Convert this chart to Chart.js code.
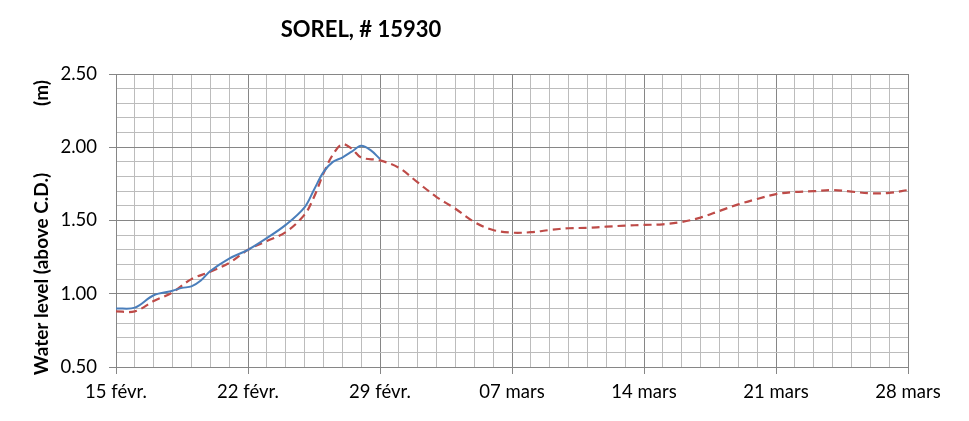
<!DOCTYPE html>
<html>
<head>
<meta charset="utf-8">
<script src="https://cdn.jsdelivr.net/npm/chart.js@4"></script>
<style>
  html, body { margin: 0; padding: 0; background: #fff; }
  #wrap { width: 969px; height: 421px; }
</style>
</head>
<body>
<div id="wrap"><canvas id="niveauChart" width="969" height="421"></canvas></div>
<script>
// Dados (dias a partir de 15 févr.)
const chartTitle = "SOREL, # 15930";
const yTitle = "Water level (above C.D.)";
const yUnit = "(m)";
const dayLabels = ["15 févr.", "22 févr.", "29 févr.", "07 mars", "14 mars", "21 mars", "28 mars"];

const observedDays = [0, 1, 2, 3, 3.5, 4, 4.5, 5, 6, 7, 8, 9, 10, 10.5, 11, 11.5, 12, 12.5, 13, 13.5, 14];
const observedLevels = [0.90, 0.905, 0.99, 1.02, 1.04, 1.05, 1.09, 1.155, 1.24, 1.30, 1.38, 1.47, 1.59, 1.71, 1.83, 1.90, 1.93, 1.97, 2.01, 1.98, 1.92];

const predictedDays = [0, 1, 2, 3, 4, 5, 6, 7, 8, 9, 10, 10.5, 11, 11.5, 12, 12.5, 13, 14,
  15, 16, 17, 18, 19, 20, 21, 22, 23, 24, 25, 26, 27, 28, 29, 30, 31, 32, 33, 34, 35, 36, 37, 38, 39, 40, 41, 42];
const predictedLevels = [0.88, 0.88, 0.95, 1.01, 1.10, 1.15, 1.21, 1.30, 1.36, 1.42, 1.54, 1.66, 1.82, 1.95, 2.02, 1.99, 1.93, 1.91,
  1.86, 1.76, 1.66, 1.58, 1.49, 1.435, 1.417, 1.42, 1.435, 1.447, 1.45, 1.458, 1.465, 1.47, 1.474, 1.49,
  1.52, 1.565, 1.61, 1.647, 1.68, 1.695, 1.70, 1.708, 1.697, 1.686, 1.688, 1.708];

function toPoints(xs, ys) {
    return xs.map((x, i) => ({ x: x, y: ys[i] }));
}

const MAJOR = "#868686";
const MINOR = "#bcbcbc";

// Títulos desenhados à mão
const titlesPlugin = {
    id: "titles",
    afterDraw(chart) {
        const ctx = chart.ctx;
        ctx.save();
        ctx.fillStyle = "#000";
        ctx.font = "bold 22px Lato";
        ctx.textAlign = "center";
        ctx.textBaseline = "middle";
        ctx.fillText(chartTitle, 361, 30);

        ctx.font = "bold 19px Lato";
        ctx.translate(42, 0);
        ctx.rotate(-Math.PI / 2);
        ctx.fillText(yTitle, -274, 0);
        ctx.fillText(yUnit, -93, 0);
        ctx.restore();
    }
};

const ctx = document.getElementById("niveauChart").getContext("2d");
const niveauChart = new Chart(ctx, {
    type: "line",
    data: {
        datasets: [{
            label: "Observed",
            data: toPoints(observedDays, observedLevels),
            borderColor: "#4a7ebb",
            borderWidth: 2,
            pointRadius: 0,
            tension: 0.35,
            fill: false
        }, {
            label: "Predicted",
            data: toPoints(predictedDays, predictedLevels),
            borderColor: "#be4b48",
            borderWidth: 2.2,
            borderDash: [8, 5],
            pointRadius: 0,
            tension: 0.35,
            fill: false
        }]
    },
    options: {
        responsive: false,
        animation: false,
        layout: { padding: { left: 0, right: 61, top: 74, bottom: 0 } },
        plugins: {
            legend: { display: false },
            tooltip: { enabled: false }
        },
        scales: {
            x: {
                type: "linear",
                min: 0,
                max: 42,
                afterFit: (scale) => { scale.height = 54; },
                border: { color: MAJOR, width: 1 },
                grid: {
                    color: (c) => (c.tick && c.tick.value % 7 === 0) ? MAJOR : MINOR,
                    tickColor: (c) => (c.tick && c.tick.value % 7 === 0) ? MAJOR : "rgba(0,0,0,0)",
                    tickLength: 7,
                    lineWidth: 1
                },
                ticks: {
                    stepSize: 1,
                    autoSkip: false,
                    maxRotation: 0,
                    padding: 7,
                    color: "#000",
                    font: { family: "Lato", size: 18.5 },
                    callback: (value) => value % 7 === 0 ? dayLabels[value / 7] : ""
                }
            },
            y: {
                min: 0.5,
                max: 2.5,
                afterFit: (scale) => { scale.width = 116; },
                border: { color: MAJOR, width: 1 },
                grid: {
                    color: (c) => (c.tick && Math.round(c.tick.value * 10) % 5 === 0) ? MAJOR : MINOR,
                    tickColor: (c) => (c.tick && Math.round(c.tick.value * 10) % 5 === 0) ? MAJOR : "rgba(0,0,0,0)",
                    tickLength: 7,
                    lineWidth: 1
                },
                ticks: {
                    stepSize: 0.1,
                    autoSkip: false,
                    padding: 12,
                    color: "#000",
                    font: { family: "Lato", size: 18.5 },
                    callback: (value) => Math.round(value * 10) % 5 === 0 ? value.toFixed(2) : ""
                }
            }
        }
    },
    plugins: [titlesPlugin]
});
</script>
</body>
</html>
